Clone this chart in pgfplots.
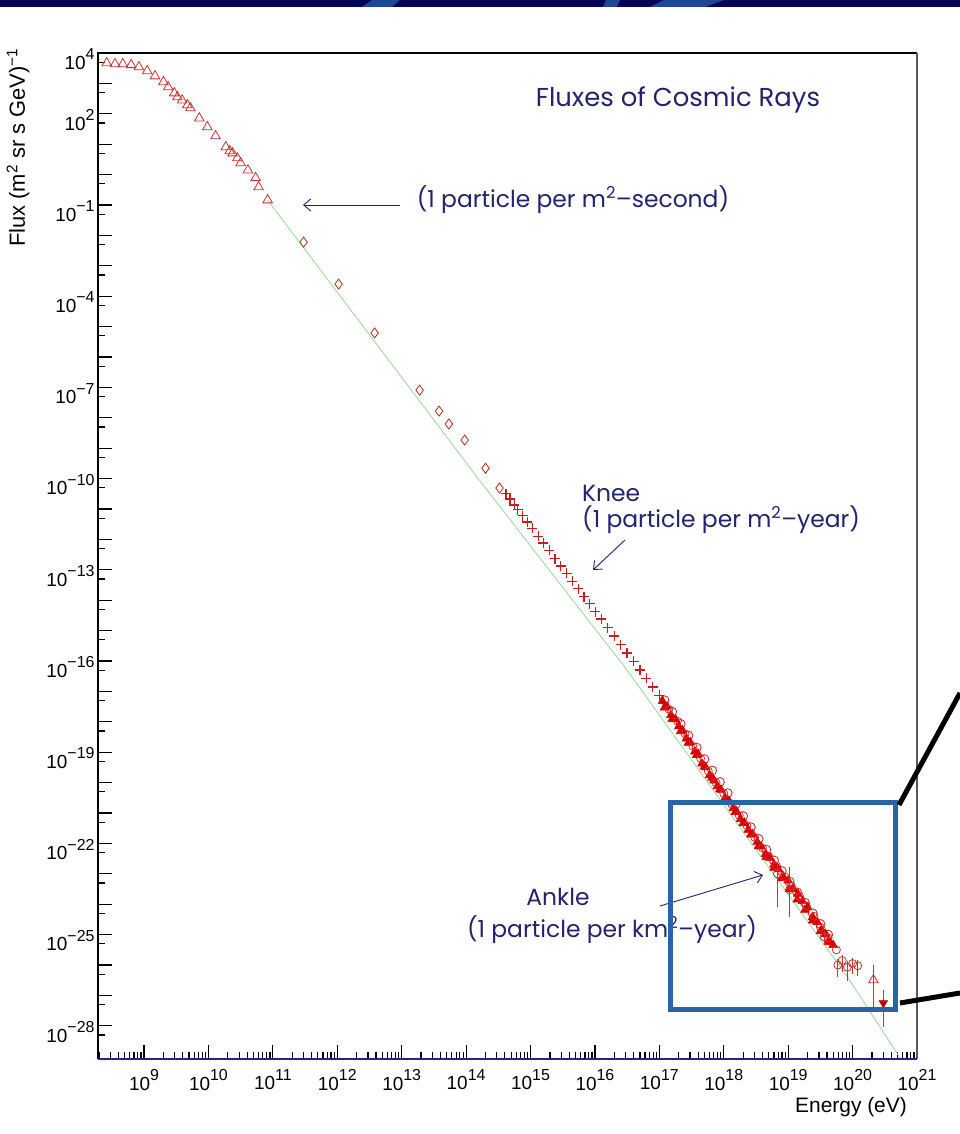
\documentclass[border=0pt]{standalone}
\usepackage{fontspec}
\setmainfont{Liberation Sans}
\newfontfamily\annfont{Poppins}
\usepackage{pgfplots}
\pgfplotsset{compat=1.18}
\usetikzlibrary{arrows.meta}

\definecolor{navytext}{RGB}{35,35,110}
\definecolor{markred}{RGB}{205,50,50}
\definecolor{diamred}{RGB}{175,45,25}
\definecolor{darkred}{RGB}{200,30,30}
\definecolor{fillred}{RGB}{215,0,0}
\definecolor{fitgreen}{RGB}{160,220,160}
\definecolor{boxblue}{RGB}{42,100,166}
\definecolor{bandnavy}{RGB}{3,3,88}
\definecolor{bandlight}{RGB}{30,70,150}
\definecolor{axisnavy}{RGB}{40,40,120}

% power-of-ten tick label in the text font
\newcommand\pw[1]{10\raisebox{0.5em}{\fontsize{16}{16}\selectfont #1}}

\begin{document}
\begin{tikzpicture}[x=1bp,y=1bp]
\useasboundingbox (0,0) rectangle (960,1134);
\fill[white] (0,0) rectangle (960,1134);
% slide banner
\fill[bandnavy] (0,1127) rectangle (960,1134);
\fill[bandlight] (362,1127) -- (372,1134) -- (400,1134) -- (392,1127) -- cycle;
\fill[bandlight] (603,1127) -- (606,1134) -- (620,1134) -- (617,1127) -- cycle;
\fill[bandlight] (650,1127) -- (664,1134) -- (724,1134) -- (705,1127) -- cycle;

\begin{axis}[
  at={(98bp,75bp)}, anchor=south west,
  scale only axis, width=819bp, height=1006bp,
  xmode=log, ymode=log,
  xmin=1.93e8, xmax=1e21,
  ymin=8.1e-30, ymax=1e4,
  axis line style={draw=none},
  clip mode=individual,
  tick align=inside, tick pos=left,
  major tick length=14bp, minor tick length=7bp,
  every tick/.style={black, line width=1.2bp},
  xtick={1e9,1e10,1e11,1e12,1e13,1e14,1e15,1e16,1e17,1e18,1e19,1e20,1e21},
  xticklabels={\pw{9},\pw{10},\pw{11},\pw{12},\pw{13},\pw{14},\pw{15},\pw{16},\pw{17},\pw{18},\pw{19},\pw{20},\pw{21}},
  minor xtick={2e8,3e8,4e8,5e8,6e8,7e8,8e8,9e8,
    2e9,3e9,4e9,5e9,6e9,7e9,8e9,9e9,
    2e10,3e10,4e10,5e10,6e10,7e10,8e10,9e10,
    2e11,3e11,4e11,5e11,6e11,7e11,8e11,9e11,
    2e12,3e12,4e12,5e12,6e12,7e12,8e12,9e12,
    2e13,3e13,4e13,5e13,6e13,7e13,8e13,9e13,
    2e14,3e14,4e14,5e14,6e14,7e14,8e14,9e14,
    2e15,3e15,4e15,5e15,6e15,7e15,8e15,9e15,
    2e16,3e16,4e16,5e16,6e16,7e16,8e16,9e16,
    2e17,3e17,4e17,5e17,6e17,7e17,8e17,9e17,
    2e18,3e18,4e18,5e18,6e18,7e18,8e18,9e18,
    2e19,3e19,4e19,5e19,6e19,7e19,8e19,9e19,
    2e20,3e20,4e20,5e20,6e20,7e20,8e20,9e20},
  ytick={1e4,1e3,1e2,1e1,1,1e-1,1e-2,1e-3,1e-4,1e-5,1e-6,1e-7,1e-8,1e-9,1e-10,1e-11,1e-12,1e-13,1e-14,1e-15,1e-16,1e-17,1e-18,1e-19,1e-20,1e-21,1e-22,1e-23,1e-24,1e-25,1e-26,1e-27,1e-28},
  yticklabels={\pw{4},,\pw{2},,,\pw{−1},,,\pw{−4},,,\pw{−7},,,\pw{−10},,,\pw{−13},,,\pw{−16},,,\pw{−19},,,\pw{−22},,,\pw{−25},,,\pw{−28}},
  minor ytick={5e3,5e2,5e1,5,5e-1,5e-2,5e-3,5e-4,5e-5,5e-6,5e-7,5e-8,5e-9,5e-10,5e-11,5e-12,5e-13,5e-14,5e-15,5e-16,5e-17,5e-18,5e-19,5e-20,5e-21,5e-22,5e-23,5e-24,5e-25,5e-26,5e-27,5e-28,5e-29},
  xticklabel style={font=\fontsize{19}{19}\selectfont, yshift=-7bp},
  yticklabel style={font=\fontsize{19}{19}\selectfont, yshift=-6bp},
]

% reference power law
\addplot[fitgreen, line width=0.9bp, mark=none] coordinates {
  (8.3e10,0.145) (1.48e14,1.12e-10) (3.16e16,5.0e-17) (8.3e19,4.1e-27) (5.6e20,8.1e-30)
};

% low-energy direct measurements
\addplot[only marks, mark=triangle, mark size=5.5bp, markred, mark options={line width=0.8bp}] coordinates {
  (2.63e8,4.68e3) (3.55e8,4.37e3) (4.68e8,4.37e3) (6.31e8,4.07e3) (8.32e8,3.47e3)
  (1.12e9,2.57e3) (1.48e9,1.74e3) (2.0e9,1.12e3) (2.37e9,7.6e2) (2.95e9,4.8e2)
  (3.3e9,3.55e2) (3.9e9,2.8e2) (4.7e9,1.95e2) (5.25e9,1.55e2) (7.2e9,72)
  (9.6e9,37) (1.29e10,18.6) (1.86e10,8.1) (2.14e10,6.0) (2.37e10,5.1)
  (2.8e10,3.5) (3.16e10,2.4) (4.1e10,1.4) (5.4e10,0.78) (6.0e10,0.39) (8.3e10,0.145)
};

% balloon and satellite data
\addplot[only marks, mark=diamond, mark size=5bp, diamred, mark options={line width=0.8bp}] coordinates {
  (3.0e11,6.0e-3) (1.05e12,2.5e-4) (3.8e12,6.2e-6) (1.9e13,8.1e-8) (3.8e13,1.66e-8)
  (5.4e13,6.3e-9) (9.5e13,1.86e-9) (2.0e14,2.2e-10) (3.3e14,4.9e-11)
};

% air shower arrays around the knee
\addplot[only marks, mark=+, mark size=5bp, darkred, mark options={line width=1.3bp}] coordinates {
  (4.17e14,3.16e-11) (4.79e14,2.14e-11) (5.62e14,1.35e-11) (6.31e14,9.5e-12) (7.59e14,6.0e-12)
  (8.91e14,3.7e-12) (1.07e15,2.3e-12) (1.32e15,1.26e-12) (1.58e15,7.6e-13) (1.95e15,4.4e-13)
  (2.40e15,2.34e-13) (2.95e15,1.35e-13) (3.63e15,7.6e-14) (4.47e15,4.2e-14) (5.5e15,2.4e-14)
  (6.76e15,1.32e-14) (8.3e15,7.6e-15) (1.02e16,4.2e-15) (1.26e16,2.4e-15) (1.58e16,1.26e-15)
  (2.0e16,6.6e-16) (2.51e16,3.47e-16) (3.16e16,1.82e-16) (3.98e16,9.8e-17) (5.0e16,5.1e-17)
  (6.3e16,2.7e-17) (7.9e16,1.41e-17) (1.0e17,7.4e-18)
};

% ultra-high-energy data, open (upper side of the band)
\addplot[only marks, mark=o, mark size=4.5bp, markred, mark options={line width=0.9bp}] coordinates {
  (1.20e17,5.1e-18) (1.58e17,2.14e-18) (2.14e17,8.5e-19) (2.82e17,3.55e-19) (3.80e17,1.41e-19)
  (5.0e17,5.9e-20) (6.6e17,2.5e-20) (8.7e17,1.05e-20) (1.15e18,4.5e-21) (1.51e18,1.86e-21)
  (2.0e18,7.9e-22) (2.63e18,3.4e-22) (3.47e18,1.41e-22) (4.57e18,6.2e-23) (6.03e18,2.75e-23)
  (7.94e18,1.23e-23) (1.05e19,5.5e-24) (1.38e19,2.45e-24) (1.82e19,1.12e-24) (2.40e19,5.0e-25)
  (3.16e19,2.24e-25) (4.17e19,1.0e-25)
};

% ultra-high-energy data, filled
\addplot[only marks, mark=triangle*, mark size=5bp, fillred, mark options={line width=0.6bp}] coordinates {
  (1.12e17,4.8e-18) (1.32e17,3.16e-18) (1.51e17,1.66e-18) (1.78e17,1.20e-18) (2.0e17,7.1e-19)
  (2.29e17,5.2e-19) (2.63e17,2.8e-19) (3.02e17,2.1e-19) (3.55e17,1.05e-19) (3.98e17,8.9e-20)
  (4.57e17,4.2e-20) (5.25e17,3.16e-20) (6.03e17,1.74e-20) (7.08e17,1.17e-20) (7.94e17,7.6e-21)
  (9.1e17,5.75e-21) (1.05e18,3.16e-21) (1.20e18,2.5e-21) (1.41e18,1.45e-21) (1.58e18,1.12e-21)
  (1.82e18,6.3e-22) (2.09e18,4.8e-22) (2.40e18,2.8e-22) (2.82e18,2.0e-22) (3.31e18,1.12e-22)
  (3.80e18,7.9e-23) (4.47e18,4.5e-23) (5.25e18,3.3e-23) (6.03e18,2.0e-23) (7.08e18,1.41e-23)
  (8.32e18,8.3e-24) (1.0e19,6.0e-24) (1.20e19,3.16e-24) (1.41e19,2.2e-24) (1.66e19,1.26e-24)
  (2.0e19,7.9e-25) (2.40e19,3.8e-25) (2.82e19,2.6e-25) (3.31e19,1.41e-25) (3.80e19,1.05e-25)
  (4.47e19,5.6e-26) (5.0e19,4.5e-26)
  (1.20e17,2.95e-18) (1.58e17,1.23e-18) (2.14e17,4.9e-19) (2.82e17,2.04e-19) (3.80e17,8.1e-20)
  (5.0e17,3.4e-20) (6.6e17,1.45e-20) (8.7e17,6.0e-21) (1.15e18,2.57e-21) (1.51e18,1.07e-21)
  (2.0e18,4.6e-22) (2.63e18,1.95e-22) (3.47e18,8.1e-23) (4.57e18,3.55e-23) (6.03e18,1.58e-23)
  (7.94e18,7.1e-24) (1.05e19,3.16e-24) (1.38e19,1.41e-24) (1.82e19,6.5e-25) (2.40e19,2.9e-25)
  (3.16e19,1.29e-25) (4.17e19,5.75e-26)
};

% ultra-high-energy data, open
\addplot[only marks, mark=o, mark size=4bp, markred, mark options={line width=0.8bp}] coordinates {
  (1.41e17,2.6e-18) (1.91e17,1.05e-18) (2.51e17,4.0e-19) (3.31e17,1.58e-19) (4.37e17,6.3e-20)
  (5.75e17,2.4e-20) (7.59e17,1.0e-20) (1.0e18,4.4e-21) (1.32e18,2.0e-21) (1.74e18,8.3e-22)
  (2.29e18,3.8e-22) (3.02e18,1.58e-22) (3.98e18,7.1e-23) (5.0e18,3.8e-23) (6.6e18,1.78e-23)
  (8.9e18,7.9e-24) (1.12e19,4.0e-24) (1.51e19,1.78e-24) (1.91e19,8.9e-25) (2.51e19,4.0e-25)
  (3.16e19,1.78e-25) (4.17e19,7.9e-26) (5.6e19,3.16e-26)
};

% points with large uncertainties
\addplot[only marks, mark=o, mark size=4bp, markred, mark options={line width=0.8bp},
  error bars/.cd, y dir=both, y explicit, error mark=none,
  error bar style={markred, line width=0.7bp}] coordinates {
  (6.8e18,1.0e-23) += (0,1.45e-23) -= (0,9.19e-24)
  (1.05e19,3.0e-24) += (0,1.36e-23) -= (0,2.62e-24)
  (3.6e19,8.5e-26) += (0,5.0e-26) -= (0,4.0e-26)
  (5.9e19,1.0e-26) += (0,6.0e-27) -= (0,6.0e-27)
  (6.9e19,1.41e-26) += (0,8.0e-27) -= (0,8.0e-27)
  (8.3e19,8.5e-27) += (0,5.5e-27) -= (0,5.5e-27)
  (1.0e20,1.12e-26) += (0,6.0e-27) -= (0,6.0e-27)
  (1.2e20,9.5e-27) += (0,5.0e-27) -= (0,5.0e-27)
};
\addplot[only marks, mark=triangle, mark size=5.5bp, markred, mark options={line width=0.8bp},
  error bars/.cd, y dir=both, y explicit, error mark=none,
  error bar style={markred, line width=0.7bp}] coordinates {
  (2.1e20,3.2e-27) += (0,6.8e-27) -= (0,2.78e-27)
};
\addplot[only marks, mark=triangle*, mark size=5bp, fillred!85!black, mark options={rotate=180},
  error bars/.cd, y dir=both, y explicit, error mark=none,
  error bar style={markred, line width=0.7bp}] coordinates {
  (3.0e20,5.6e-28) += (0,9.4e-28) -= (0,4.7e-28)
};

% frame
\draw[black, line width=1.8bp] (rel axis cs:0,0) -- (rel axis cs:0,1) -- (rel axis cs:1,1);
\draw[black!65, line width=1.5bp] (rel axis cs:1,1) -- (rel axis cs:1,0);
\draw[axisnavy, line width=2bp] (rel axis cs:0,0) -- (rel axis cs:1,0);
\end{axis}

% axis titles
\node[rotate=90, anchor=east, inner sep=0pt, font=\fontsize{22}{22}\selectfont]
  at (18,1086) {Flux (m\textsuperscript{2} sr s GeV)\textsuperscript{−1}};
\node[anchor=east, inner sep=0pt, font=\fontsize{21}{21}\selectfont]
  at (907,27) {Energy (eV)};

% annotations
\begin{scope}[navytext, font=\annfont\fontsize{23.5}{27}\selectfont]
\node[font=\annfont\fontsize{26}{30}\selectfont] at (678,1034) {Fluxes of Cosmic Rays};
\node at (573,934) {(1 particle per m\textsuperscript{2}–second)};
\draw[line width=0.9bp, -{Straight Barb[length=7bp,width=12bp]}] (400,929) -- (303,929);
\node[anchor=west, inner sep=0pt] at (582,641) {Knee};
\node[anchor=west, inner sep=0pt] at (582,614) {(1 particle per m\textsuperscript{2}–year)};
\draw[line width=0.9bp, -{Straight Barb[length=7bp,width=12bp]}] (625,594) -- (593,564);
\node at (558,237) {Ankle};
\node at (612,204) {(1 particle per km\textsuperscript{2}–year)};
\draw[line width=0.9bp, -{Straight Barb[length=7bp,width=12bp]}] (660,228) -- (763,259);
\end{scope}

% highlight of the highest energies
\draw[boxblue, line width=5bp] (670,124) rectangle (895,331);
\draw[black, line width=5bp] (899,329) -- (960,441);
\draw[black, line width=5bp] (900,131) -- (960,141);
\end{tikzpicture}
\end{document}
